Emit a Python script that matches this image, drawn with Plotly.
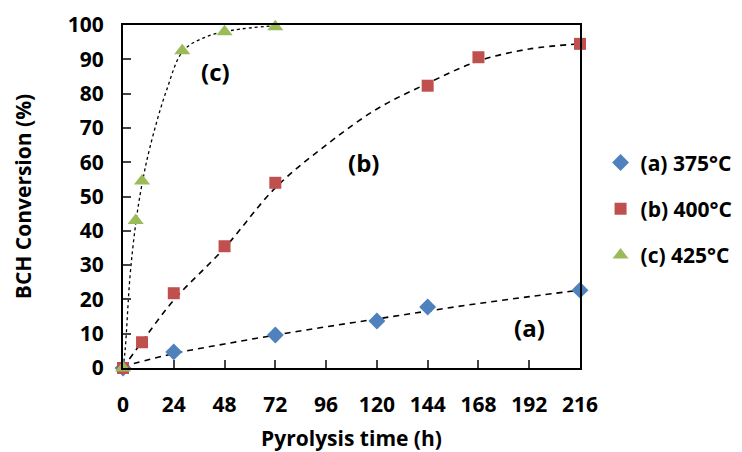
import plotly.graph_objects as go

# Measured data points
time_a = [0, 24, 72, 120, 144, 216]
conv_a = [0, 4.7, 9.6, 13.7, 17.8, 22.7]
time_b = [0, 9, 24, 48, 72, 144, 168, 216]
conv_b = [0, 7.5, 21.8, 35.5, 54, 82.3, 90.6, 94.5]
time_c = [0, 6, 9, 28, 48, 72]
conv_c = [0, 43, 54.5, 92.5, 98, 99.5]

# Dashed trend curves
fit_a_t = [0, 24, 48, 72, 96, 120, 144, 168, 192, 216]
fit_a_y = [0.5, 4.2, 7.0, 9.6, 12.0, 14.3, 16.6, 18.8, 20.8, 22.7]
fit_b_t = [0, 10, 24, 48, 72, 96, 120, 144, 168, 192, 216]
fit_b_y = [0, 8.5, 19.8, 35.0, 52.5, 65.0, 75.5, 83.0, 89.5, 93.0, 94.5]
fit_c_t = [0, 1, 3.3, 6, 8.8, 12.8, 20.6, 28.5, 39.5, 52, 72]
fit_c_y = [0, 5.2, 26.6, 42, 53, 64.5, 81, 92.5, 96.6, 98.5, 99.8]

labels = ["(a) 375°C", "(b) 400°C", "(c) 425°C"]
x_ticks = [0, 24, 48, 72, 96, 120, 144, 168, 192, 216]

FONT = "Open Sans"
fig = go.Figure()
dash_line = dict(color="black", width=1.6, dash="6px,5px")
for t, y in [(fit_a_t, fit_a_y), (fit_b_t, fit_b_y)]:
    fig.add_trace(go.Scatter(x=t, y=y, mode="lines", line=dash_line,
                             line_shape="spline", showlegend=False, hoverinfo="skip"))
fig.add_trace(go.Scatter(x=fit_c_t, y=fit_c_y, mode="lines",
                         line=dict(color="black", width=1.3, dash="3px,3px"),
                         line_shape="spline", showlegend=False, hoverinfo="skip"))

fig.add_trace(go.Scatter(x=time_a, y=conv_a, mode="markers", name=labels[0], legendgroup="a",
                         marker=dict(symbol="diamond", size=13, color="#4F81BD"), cliponaxis=False))
fig.add_trace(go.Scatter(x=time_b, y=conv_b, mode="markers", name=labels[1], legendgroup="b",
                         marker=dict(symbol="square", size=12, color="#C0504D"), cliponaxis=False))
fig.add_trace(go.Scatter(x=time_c, y=conv_c, mode="markers", name=labels[2], legendgroup="c",
                         marker=dict(symbol="triangle-up", size=14, color="#9BBB59"), cliponaxis=False))

ann_font = dict(family=FONT, size=24, color="black", weight="bold")
for txt, x, y in [("(c)", 43.5, 86.3), ("(b)", 113.5, 59.8), ("(a)", 192, 11.7)]:
    fig.add_annotation(x=x, y=y, text=txt, showarrow=False, font=ann_font)

tick_font = dict(family=FONT, size=21, color="black", weight="bold")
title_font = dict(family=FONT, size=21, color="black", weight="bold")
fig.update_layout(
    width=734, height=444,
    margin=dict(l=115, r=162, t=17, b=84, autoexpand=False),
    plot_bgcolor="white", paper_bgcolor="white",
    font=dict(family=FONT, color="black"),
    xaxis=dict(range=[0, 216], tickvals=x_ticks, ticks="inside", ticklen=8, tickwidth=1.5,
               showline=True, linecolor="black", linewidth=2, mirror=True, showgrid=False,
               zeroline=False, tickfont=tick_font, ticklabelstandoff=17, automargin=False,
               title=dict(text="Pyrolysis time (h)", font=title_font, standoff=18)),
    yaxis=dict(range=[0, 100], dtick=10, ticks="inside", ticklen=8, tickwidth=1.5,
               showline=True, linecolor="black", linewidth=2, mirror=True, showgrid=False,
               zeroline=False, tickfont=tick_font, ticklabelstandoff=13, automargin=False,
               title=dict(text="BCH Conversion (%)", font=title_font, standoff=30)),
    legend=dict(x=1.045, y=0.464, xanchor="left", yanchor="middle", font=tick_font,
                tracegroupgap=16, itemwidth=30, bgcolor="rgba(0,0,0,0)"),
)

fig.write_html("out.html")
